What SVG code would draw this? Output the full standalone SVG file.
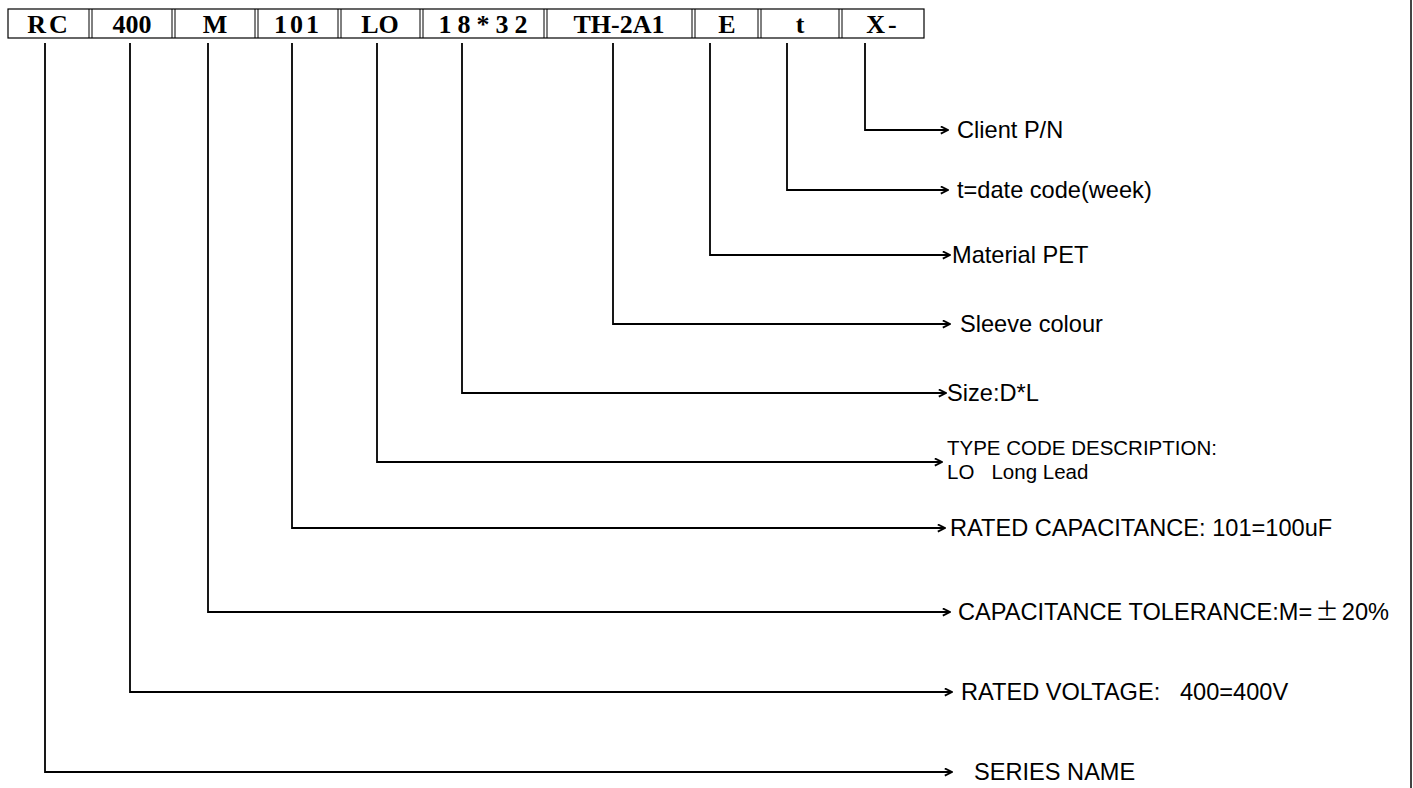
<svg xmlns="http://www.w3.org/2000/svg" width="1413" height="788" viewBox="0 0 1413 788">
<style>
.box{fill:#fff;stroke:#000;stroke-width:1.2}
.sep{stroke:#000;stroke-width:1}
.code{font-family:"Liberation Serif",serif;font-weight:bold;font-size:26px;fill:#000;text-anchor:middle}
.lbl{font-family:"Liberation Sans",Arial,sans-serif;font-size:23.6px;fill:#000}
.small{font-family:"Liberation Sans",Arial,sans-serif;font-size:20.5px;fill:#000}
.con{fill:none;stroke:#000;stroke-width:1.8;marker-end:url(#arr)}
</style>
<defs>
<marker id="arr" viewBox="0 0 10 10" refX="9" refY="5" markerWidth="5" markerHeight="5" orient="auto" markerUnits="strokeWidth">
<path d="M1,1 L9,5 L1,9" fill="none" stroke="#000" stroke-width="2"/>
</marker>
</defs>
<rect width="1413" height="788" fill="#fff"/>
<line x1="1411" y1="0" x2="1411" y2="788" stroke="#444" stroke-width="2"/>
<g id="header">
<rect class="box" x="8" y="9" width="916" height="29"/>
<g class="sep">
<line x1="89" y1="9" x2="89" y2="38"/><line x1="92" y1="9" x2="92" y2="38"/>
<line x1="172" y1="9" x2="172" y2="38"/><line x1="175" y1="9" x2="175" y2="38"/>
<line x1="255" y1="9" x2="255" y2="38"/><line x1="258" y1="9" x2="258" y2="38"/>
<line x1="338" y1="9" x2="338" y2="38"/><line x1="341" y1="9" x2="341" y2="38"/>
<line x1="420" y1="9" x2="420" y2="38"/><line x1="423" y1="9" x2="423" y2="38"/>
<line x1="544" y1="9" x2="544" y2="38"/><line x1="547" y1="9" x2="547" y2="38"/>
<line x1="692" y1="9" x2="692" y2="38"/><line x1="695" y1="9" x2="695" y2="38"/>
<line x1="758" y1="9" x2="758" y2="38"/><line x1="761" y1="9" x2="761" y2="38"/>
<line x1="839" y1="9" x2="839" y2="38"/><line x1="842" y1="9" x2="842" y2="38"/>
</g>
</g>
<g id="code-RC"><text class="code" x="49" y="33" letter-spacing="3">RC</text></g>
<g id="code-400"><text class="code" x="132" y="33">400</text></g>
<g id="code-M"><text class="code" x="215" y="33">M</text></g>
<g id="code-101"><text class="code" x="298" y="33" letter-spacing="3">101</text></g>
<g id="code-LO"><text class="code" x="380" y="33">LO</text></g>
<g id="code-size"><text class="code" x="486" y="33" letter-spacing="6">18*32</text></g>
<g id="code-TH"><text class="code" x="619" y="33">TH-2A1</text></g>
<g id="code-E"><text class="code" x="727" y="33">E</text></g>
<g id="code-t"><text class="code" x="800" y="33">t</text></g>
<g id="code-X"><text class="code" x="883" y="33" letter-spacing="3">X-</text></g>
<g id="connectors">
<path class="con" d="M865,43 V130 H948"/>
<path class="con" d="M787,43 V190 H948"/>
<path class="con" d="M710,43 V255 H950"/>
<path class="con" d="M613,43 V324 H950"/>
<path class="con" d="M462,43 V393 H946"/>
<path class="con" d="M377,43 V462 H942"/>
<path class="con" d="M292,43 V528 H945"/>
<path class="con" d="M208,43 V612 H950"/>
<path class="con" d="M130,43 V692 H952"/>
<path class="con" d="M45,43 V772 H952"/>
</g>
<g id="label-client"><text class="lbl" x="957" y="138">Client P/N</text></g>
<g id="label-date"><text class="lbl" x="957" y="198">t=date code(week)</text></g>
<g id="label-material"><text class="lbl" x="952" y="263">Material PET</text></g>
<g id="label-sleeve"><text class="lbl" x="960" y="332">Sleeve colour</text></g>
<g id="label-size"><text class="lbl" x="947" y="401">Size:D*L</text></g>
<g id="label-type"><text class="small" x="947" y="455">TYPE CODE DESCRIPTION:</text><text class="small" x="947" y="479" xml:space="preserve">LO   Long Lead</text></g>
<g id="label-cap"><text class="lbl" x="950" y="536">RATED CAPACITANCE: 101=100uF</text></g>
<g id="label-tol"><text class="lbl" x="958" y="620">CAPACITANCE TOLERANCE:M=<tspan font-family="Noto Sans CJK SC" dx="3">±</tspan><tspan dx="3">20%</tspan></text></g>
<g id="label-volt"><text class="lbl" x="961" y="700" xml:space="preserve">RATED VOLTAGE:   400=400V</text></g>
<g id="label-series"><text class="lbl" x="974" y="780">SERIES NAME</text></g>
</svg>
